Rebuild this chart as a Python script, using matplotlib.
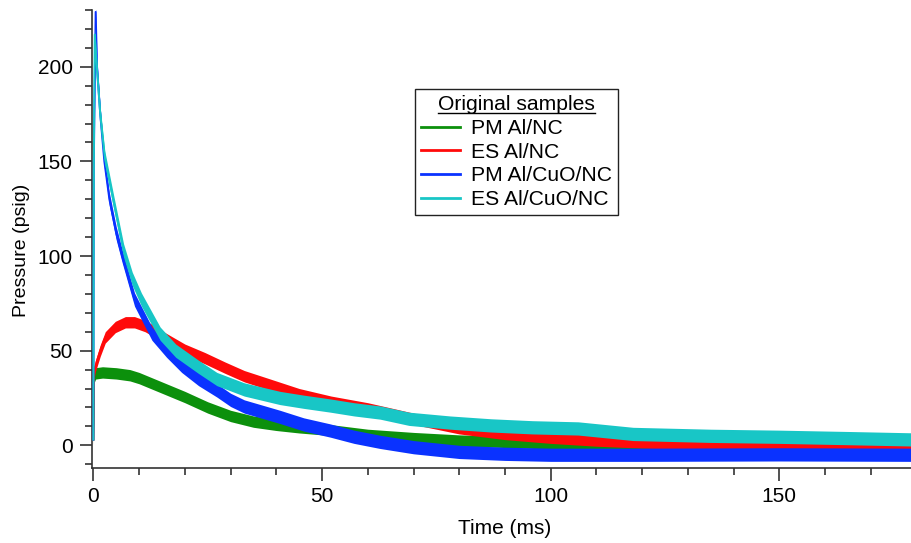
import numpy as np
import matplotlib.pyplot as plt
from matplotlib.ticker import MultipleLocator
from matplotlib.lines import Line2D

plt.rcParams['font.family'] = ['Liberation Sans', 'DejaVu Sans']

# values (time in ms, pressure in psig)
t_pm_al = [0, 0.15, 0.5, 2, 5, 8, 10, 13, 16, 20, 25, 30, 35, 40, 45, 50, 55, 60,
           70, 80, 90, 100, 120, 140, 160, 179]
p_pm_al = [3, 36, 38, 38.5, 38, 37, 35.5, 32.5, 29.5, 25.5, 20, 15.5, 12.5, 10.8, 9.5, 8.5, 7, 5.5,
           3.8, 2.5, 1.8, 1, 0.5, 0, -0.3, -0.5]

t_es_al = [0, 0.1, 0.4, 1.5, 2.6, 4.8, 7, 9, 11.3, 13.5, 15.7, 20, 24.4, 28.8, 33, 38.7,
           45, 52, 60, 70, 80, 90, 100, 110, 120, 135, 150, 165, 179]
p_es_al = [3, 37, 41.5, 50, 57, 62.5, 65, 65, 63, 60, 56.5, 50.5, 46, 41, 36.5, 32,
           27, 23, 19.5, 14, 9, 6, 4, 2.5, 1.5, 0.5, 0, -0.5, -1]

t_pm_cuo = [0, 0.1, 0.5, 0.8, 1.5, 2.4, 3.5, 5, 6.3, 9, 12.8, 16, 19.3, 23, 27, 30, 33,
            40.8, 46, 51.8, 57, 62.7, 70, 80, 90, 100, 120, 150, 179]
p_pm_cuo = [3, 150, 229, 200, 175, 150, 130, 112, 100, 77, 59, 50, 42, 35, 29, 24, 20.5,
            15, 11, 7.8, 4.5, 1.8, -1, -3.5, -4.5, -5, -5, -4.8, -5]

t_es_cuo = [0, 0.1, 0.3, 0.75, 1.5, 2.5, 4.4, 6.6, 8.5, 10.5, 14.6, 18, 22.9, 27, 33,
            40.8, 46, 51.8, 57, 62.7, 69, 78, 87, 96, 106, 118, 135, 150, 165, 179]
p_es_cuo = [3, 150, 217, 200, 175, 152, 129, 103, 88, 77, 59, 50, 41.6, 35, 29.5,
            25, 23, 21, 19, 17.3, 14, 12, 10.5, 9.5, 8.9, 6, 5, 4.5, 3.8, 3.1]

labels = ['PM Al/NC', 'ES Al/NC', 'PM Al/CuO/NC', 'ES Al/CuO/NC']
colors = ['#0c900c', '#ff0a0a', '#0a32ff', '#18c6c6']
noise = [3.0, 3.0, 3.5, 3.5]

series = [(t_pm_al, p_pm_al), (t_es_al, p_es_al), (t_pm_cuo, p_pm_cuo), (t_es_cuo, p_es_cuo)]

fig = plt.figure(figsize=(9.12, 5.43), dpi=100, facecolor='w')
ax = fig.add_axes([92 / 912, 75 / 543, 820 / 912, 458 / 543])

for i, (t, p) in enumerate(series):
    t = np.array(t)
    p = np.array(p)
    # sensor noise shown as a band around the trace
    ax.fill_between(t, p - noise[i], p + noise[i], color=colors[i], lw=0, zorder=2 + i)
    ax.plot(t, p, color=colors[i], lw=1.4, zorder=2 + i)

ax.set_xlim(-0.3, 179)
ax.set_ylim(-12, 230)

for s in ['top', 'right']:
    ax.spines[s].set_visible(False)
for s in ['left', 'bottom']:
    ax.spines[s].set_linewidth(1.2)
    ax.spines[s].set_color('#333333')

ax.xaxis.set_major_locator(MultipleLocator(50))
ax.xaxis.set_minor_locator(MultipleLocator(10))
ax.yaxis.set_major_locator(MultipleLocator(50))
ax.yaxis.set_minor_locator(MultipleLocator(10))
ax.tick_params(which='major', length=9, width=1.2, color='#333333', labelsize=15, pad=5)
ax.tick_params(which='minor', length=5, width=1.2, color='#333333')

ax.set_xlabel('Time (ms)', fontsize=15)
ax.set_ylabel('Pressure (psig)', fontsize=14)
ax.xaxis.set_label_coords((505 - 92) / 820, -0.112)
ax.yaxis.set_label_coords(-0.076, 0.5 - (250 - 239) / 458)

handles = [Line2D([], [], color=c, lw=2) for c in colors]
leg = ax.legend(handles, labels, title='Original samples', fontsize=15.2, title_fontsize=15.2,
                loc='upper left', bbox_to_anchor=(415 / 912, 1 - 89 / 543),
                bbox_transform=fig.transFigure, borderaxespad=0, fancybox=False,
                framealpha=1, edgecolor='#222222', handlelength=1.85, handletextpad=0.5,
                labelspacing=0.22, borderpad=0.3)
leg.get_frame().set_linewidth(1.0)

# underline the legend title
fig.canvas.draw()
bb = leg.get_title().get_window_extent()
fig.add_artist(Line2D([bb.x0 / 912, bb.x1 / 912], [(bb.y0 + 1) / 543] * 2,
                      transform=fig.transFigure, color='k', lw=1))

fig.savefig('out.png', dpi=100)
